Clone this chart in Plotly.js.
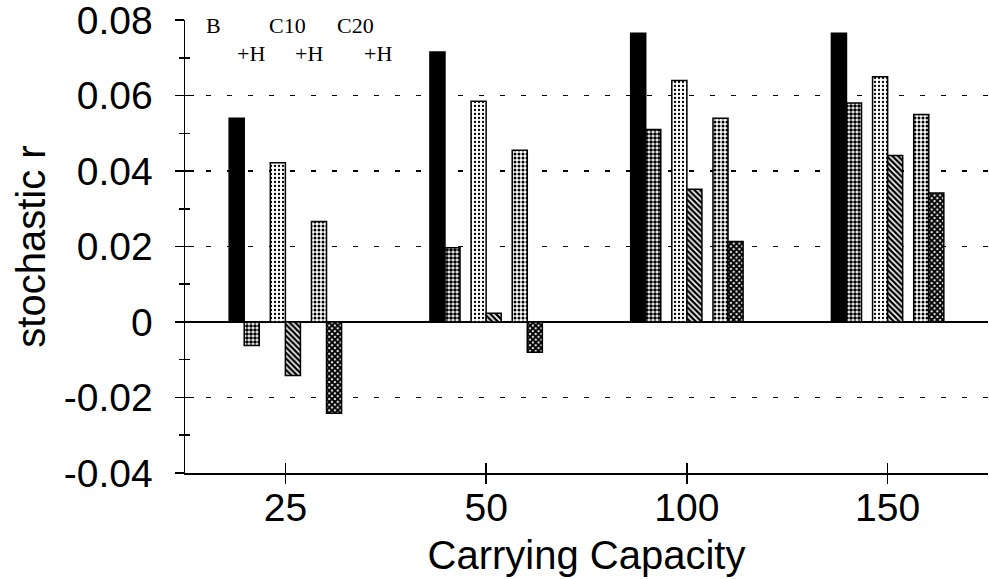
<!DOCTYPE html>
<html>
<head>
<meta charset="utf-8">
<script src="https://cdn.plot.ly/plotly-3.0.1.min.js"></script>
<style>html,body{margin:0;padding:0;background:#fff;}#chart{width:989px;height:579px;}</style>
</head>
<body>
<div id="chart"></div>
<script>
// ---- data ----
var categories = ['25', '50', '100', '150'];
var seriesNames = ['B', 'B+H', 'C10', 'C10+H', 'C20', 'C20+H'];
var valB    = [0.0540, 0.0715, 0.0765, 0.0765];
var valBH   = [-0.0062, 0.0197, 0.0510, 0.0580];
var valC10  = [0.0422, 0.0585, 0.0640, 0.0650];
var valC10H = [-0.0142, 0.0023, 0.0352, 0.0441];
var valC20  = [0.0266, 0.0455, 0.0540, 0.0550];
var valC20H = [-0.0242, -0.0080, 0.0213, 0.0342];
var yTickVals = [-0.04, -0.02, 0, 0.02, 0.04, 0.06, 0.08];
var yTickText = ['-0.04', '-0.02', '0', '0.02', '0.04', '0.06', '0.08'];
var gridVals = [-0.02, 0.02, 0.04, 0.06];

// ---- styles ----
var allValues = [valB, valBH, valC10, valC10H, valC20, valC20H];
var barOffsets = [-0.28, -0.205, -0.075, 0.0, 0.13, 0.205];
var barWidth = 0.075;
var patterns = [
  null,
  {shape: '.', size: 4, solidity: 0.65, fgcolor: '#000', bgcolor: '#fff', fillmode: 'replace'},
  {shape: '.', size: 4, solidity: 0.25, fgcolor: '#000', bgcolor: '#fff', fillmode: 'replace'},
  {shape: '\\', size: 4, solidity: 0.6, fgcolor: '#000', bgcolor: '#fff', fillmode: 'replace'},
  {shape: '.', size: 4, solidity: 0.45, fgcolor: '#000', bgcolor: '#fff', fillmode: 'replace'},
  {shape: 'x', size: 4, solidity: 0.75, fgcolor: '#000', bgcolor: '#fff', fillmode: 'replace'}
];

var traces = allValues.map(function (vals, i) {
  var marker = {color: i === 0 ? '#000' : '#fff', line: {color: '#000', width: 1.5}};
  if (patterns[i]) marker.pattern = patterns[i];
  return {
    type: 'bar', name: seriesNames[i], x: categories, y: vals,
    offset: barOffsets[i], width: barWidth, marker: marker,
    xaxis: 'x', yaxis: 'y', showlegend: false, hoverinfo: 'x+y+name'
  };
});
// helper traces so that the overlay axes (tick labels / outer ticks) are drawn
traces.push({type: 'scatter', mode: 'markers', x: categories, y: categories.map(function () { return null; }),
  xaxis: 'x', yaxis: 'y2', showlegend: false, hoverinfo: 'skip'});
traces.push({type: 'scatter', mode: 'markers', x: categories, y: categories.map(function () { return null; }),
  xaxis: 'x2', yaxis: 'y3', showlegend: false, hoverinfo: 'skip'});

var sans = 'Liberation Sans, Arial, Helvetica, sans-serif';
var serif = 'Liberation Serif, Times New Roman, serif';
var yRange = [-0.04001, 0.08001];
var xRange = [-0.5, 3.5];

var layout = {
  width: 989, height: 579,
  margin: {l: 185, r: 1, t: 20, b: 106, pad: 0},
  paper_bgcolor: '#fff', plot_bgcolor: '#fff',
  barmode: 'overlay',
  font: {family: sans, color: '#000'},
  xaxis: {
    type: 'category', categoryorder: 'array', categoryarray: categories,
    range: xRange, fixedrange: true,
    showline: true, linecolor: '#000', linewidth: 1.5,
    ticks: 'inside', ticklen: 10, tickwidth: 1.5, tickcolor: '#000',
    showgrid: false, zeroline: false,
    tickfont: {family: sans, size: 39, color: '#000'},
    ticklabelstandoff: 0,
    title: {text: 'Carrying Capacity', font: {family: sans, size: 40, color: '#000'}, standoff: 12}
  },
  xaxis2: {
    type: 'category', categoryorder: 'array', categoryarray: categories,
    overlaying: 'x', range: xRange, fixedrange: true,
    ticks: 'outside', ticklen: 10, tickwidth: 1.5, tickcolor: '#000',
    showticklabels: false, showgrid: false, zeroline: false, showline: false
  },
  yaxis: {
    range: yRange, fixedrange: true,
    tickmode: 'array', tickvals: gridVals, showticklabels: false, ticks: '',
    showgrid: true, gridcolor: '#000', gridwidth: 1.5, griddash: '5px,16px',
    zeroline: true, zerolinecolor: '#000', zerolinewidth: 1.5,
    showline: false
  },
  yaxis2: {
    overlaying: 'y', side: 'left', anchor: 'x', range: yRange, fixedrange: true,
    tickmode: 'array', tickvals: yTickVals, ticktext: yTickText,
    ticks: 'outside', ticklen: 9, tickwidth: 1.5, tickcolor: '#000',
    minor: {tickmode: 'linear', tick0: 0, dtick: 0.01, ticks: 'outside', ticklen: 5, tickwidth: 1.5, tickcolor: '#000', showgrid: false},
    showline: true, linecolor: '#000', linewidth: 1.5,
    showgrid: false, zeroline: false,
    tickfont: {family: sans, size: 39, color: '#000'},
    ticklabelstandoff: 14, ticklabeloverflow: 'allow',
    title: {text: 'stochastic r', font: {family: sans, size: 40, color: '#000'}, standoff: 6}
  },
  yaxis3: {
    overlaying: 'y', side: 'left', anchor: 'x2', range: yRange, fixedrange: true,
    tickmode: 'linear', tick0: 0, dtick: 0.02,
    ticks: 'inside', ticklen: 9, tickwidth: 1.5, tickcolor: '#000',
    minor: {tickmode: 'linear', tick0: 0, dtick: 0.01, ticks: 'inside', ticklen: 5, tickwidth: 1.5, tickcolor: '#000', showgrid: false},
    showticklabels: false, showgrid: false, zeroline: false, showline: false
  },
  annotations: [
    {text: 'B', x: 0.036, y: 0.987},
    {text: 'C10', x: 0.128, y: 0.987},
    {text: 'C20', x: 0.212, y: 0.987},
    {text: '+H', x: 0.082, y: 0.926},
    {text: '+H', x: 0.154, y: 0.926},
    {text: '+H', x: 0.240, y: 0.926}
  ].map(function (a) {
    return {text: a.text, x: a.x, y: a.y, xref: 'paper', yref: 'paper', showarrow: false,
      xanchor: 'center', yanchor: 'middle', font: {family: serif, size: 22, color: '#000'}};
  })
};

Plotly.newPlot('chart', traces, layout, {staticPlot: true, displayModeBar: false});
</script>
</body>
</html>
